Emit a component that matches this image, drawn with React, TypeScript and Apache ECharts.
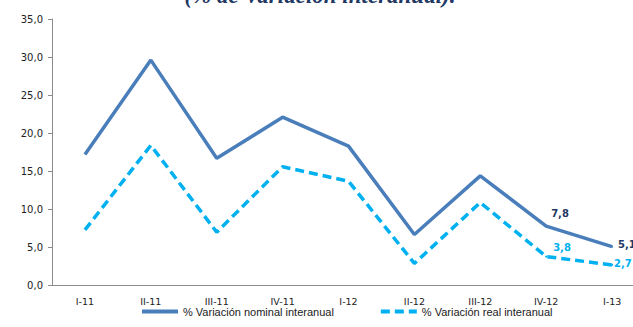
import React, { useEffect, useRef } from "react";
import * as echarts from "echarts";

const categories = ["I-11", "II-11", "III-11", "IV-11", "I-12", "II-12", "III-12", "IV-12", "I-13"];
const nominal = [17.2, 29.6, 16.7, 22.1, 18.3, 6.7, 14.4, 7.8, 5.1];
const real = [7.3, 18.4, 7.0, 15.6, 13.7, 2.9, 10.9, 3.8, 2.7];
const nominalName = "% Variación nominal interanual";
const realName = "% Variación real interanual";
const titleText = "(% de Variación interanual).";
const labelledFrom = 7;

const fmt = (v: number) => v.toFixed(1).replace(".", ",");

export default function App() {
  const ref = useRef<HTMLDivElement>(null);
  useEffect(() => {
    if (!ref.current) return;
    const chart = echarts.init(ref.current, null, { renderer: "svg" });
    const mk = (vals: number[], color: string, textColor: string, pos: number[][]) =>
      vals.map((v, i) =>
        i >= labelledFrom
          ? {
              value: v,
              symbol: "circle",
              symbolSize: 2,
              itemStyle: { color },
              label: {
                show: true,
                position: pos[i - labelledFrom],
                formatter: (p: any) => fmt(p.value),
                color: textColor,
                fontFamily: "DejaVu Sans",
                fontWeight: "bold",
                fontSize: 10,
              },
            }
          : v
      );
    chart.setOption({
      animation: false,
      grid: { left: 52, top: 19, width: 593, height: 266.5, containLabel: false },
      graphic: [
        {
          type: "text",
          x: 320,
          y: 7,
          style: {
            text: titleText,
            textAlign: "center",
            textVerticalAlign: "bottom",
            font: "italic bold 23px 'Liberation Serif'",
            fill: "#1f3864",
          },
        },
      ],
      legend: {
        left: 135,
        bottom: 5,
        itemWidth: 36,
        itemHeight: 10,
        itemGap: 45,
        itemStyle: { opacity: 0 },
        lineStyle: { width: 4 },
        textStyle: { fontFamily: "Liberation Sans", fontSize: 11, color: "#222" },
        data: [nominalName, realName],
      },
      xAxis: {
        type: "category",
        data: categories,
        boundaryGap: true,
        axisLine: { lineStyle: { color: "#8c8c8c", width: 1 } },
        axisTick: { show: false },
        axisLabel: { fontFamily: "DejaVu Sans", fontSize: 9.5, color: "#222", margin: 11 },
      },
      yAxis: {
        type: "value",
        min: 0,
        max: 35,
        interval: 5,
        splitLine: { show: false },
        axisLine: { show: true, lineStyle: { color: "#8c8c8c", width: 1 } },
        axisTick: { show: true, length: 4, inside: false, lineStyle: { color: "#8c8c8c" } },
        axisLabel: {
          fontFamily: "DejaVu Sans",
          fontSize: 10,
          color: "#222",
          margin: 9,
          formatter: (v: number) => fmt(v),
        },
      },
      series: [
        {
          name: nominalName,
          type: "line",
          data: mk(nominal, "#4a7ebb", "#1f3864", [[6, -17], [7, -6]]),
          symbol: "none",
          lineStyle: { color: "#4a7ebb", width: 3.5 },
          itemStyle: { color: "#4a7ebb" },
        },
        {
          name: realName,
          type: "line",
          data: mk(real, "#00b0f0", "#00b0f0", [[8, -13], [3, -5]]),
          symbol: "none",
          lineStyle: { color: "#00b0f0", width: 3.5, type: [9, 5] },
          itemStyle: { color: "#00b0f0" },
        },
      ],
    });
    return () => chart.dispose();
  }, []);
  return (
    <div
      style={{ position: "fixed", left: 0, top: 0, width: 633, height: 327, overflow: "hidden", background: "#fff" }}
    >
      <div ref={ref} style={{ width: 660, height: 327 }} />
    </div>
  );
}
